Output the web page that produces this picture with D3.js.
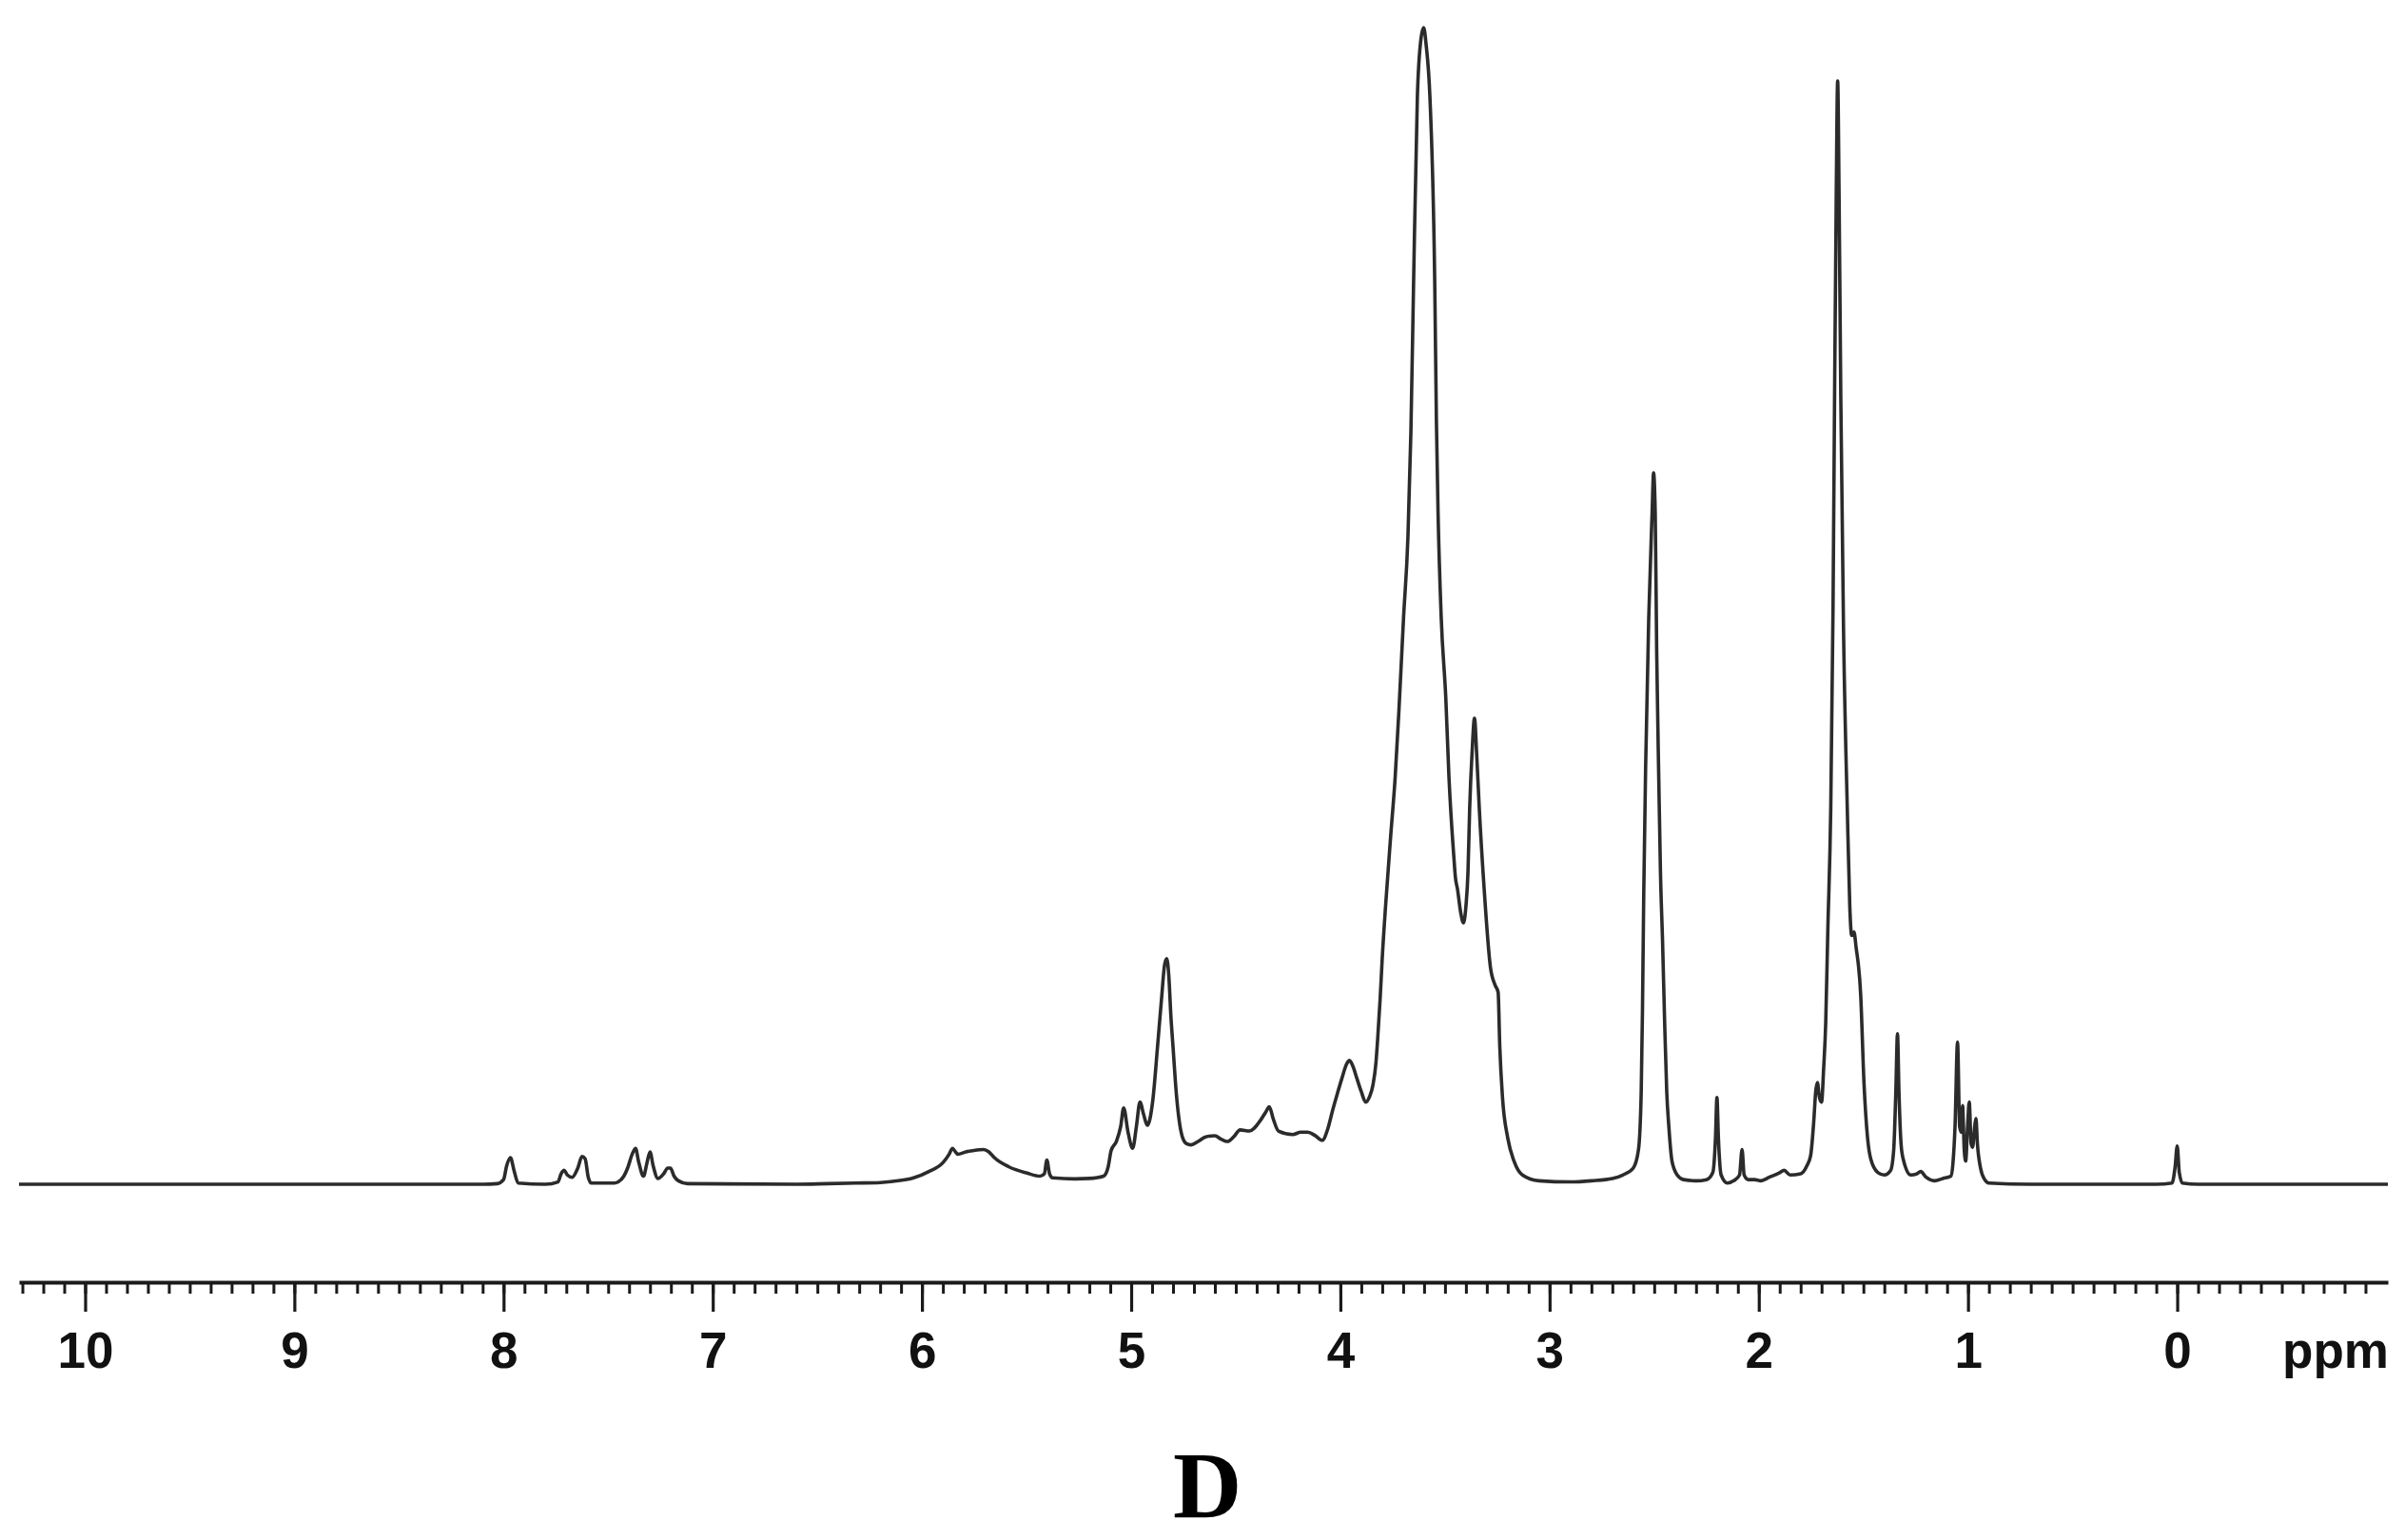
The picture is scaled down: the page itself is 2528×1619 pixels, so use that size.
<!DOCTYPE html>
<html>
<head>
<meta charset="utf-8">
<script src="https://cdn.jsdelivr.net/npm/d3@7"></script>
<style>
  html, body { margin: 0; padding: 0; background: #ffffff; }
  svg { display: block; }
</style>
</head>
<body>
<svg id="chart" width="2528" height="1619"></svg>
<script>
// ---- data (chemical shift in ppm, relative intensity in %) ----
const ppmValues = [
  10.316, 8.1, 8.03, 8.0, 7.985, 7.967, 7.95, 7.93, 7.80, 7.74, 7.725, 7.71, 7.695, 7.672, 7.645, 7.625, 7.61, 7.595, 7.58,
  7.47, 7.452, 7.425, 7.407, 7.385, 7.369, 7.355, 7.331, 7.315, 7.30, 7.285, 7.262, 7.235, 7.215, 7.202, 7.185, 7.164, 7.12,
  6.6, 6.45, 6.315, 6.20, 6.14, 6.04, 5.967, 5.898, 5.87, 5.854, 5.84, 5.829, 5.79, 5.758, 5.706, 5.68, 5.654, 5.584, 5.497,
  5.436, 5.415, 5.403, 5.39, 5.375, 5.27, 5.20, 5.132, 5.11, 5.096, 5.071, 5.05, 5.036, 5.015, 4.993, 4.975, 4.958, 4.94,
  4.923, 4.897, 4.874, 4.855, 4.84, 4.83, 4.82, 4.81, 4.80, 4.784, 4.757, 4.735, 4.714, 4.68, 4.644, 4.60, 4.57, 4.54, 4.51,
  4.479, 4.435, 4.383, 4.355, 4.34, 4.32, 4.296, 4.227, 4.19, 4.157, 4.12, 4.087, 4.06, 4.037, 4.015, 3.992, 3.97, 3.957,
  3.94, 3.922, 3.90, 3.879, 3.86, 3.844, 3.83, 3.822, 3.81, 3.80, 3.783, 3.76, 3.738, 3.72, 3.698, 3.677, 3.663, 3.65, 3.632,
  3.615, 3.602, 3.59, 3.572, 3.549, 3.541, 3.533, 3.518, 3.496, 3.481, 3.458, 3.45, 3.44, 3.425, 3.412, 3.40, 3.39, 3.382,
  3.37, 3.359, 3.348, 3.336, 3.313, 3.283, 3.26, 3.246, 3.238, 3.225, 3.20, 3.17, 3.13, 3.05, 2.90, 2.80, 2.70, 2.65,
  2.60, 2.575, 2.562, 2.556, 2.55, 2.541, 2.526, 2.51, 2.503, 2.495, 2.488, 2.478, 2.47, 2.46, 2.45, 2.44, 2.43, 2.415,
  2.39, 2.36, 2.30, 2.25, 2.22, 2.207, 2.20, 2.193, 2.18, 2.15, 2.12, 2.092, 2.08, 2.07, 2.05, 2.02, 1.99, 1.95, 1.90,
  1.879, 1.85, 1.80, 1.77, 1.752, 1.737, 1.728, 1.72, 1.71, 1.70, 1.69, 1.68, 1.67, 1.656, 1.645, 1.637, 1.63, 1.623,
  1.616, 1.608, 1.595, 1.577, 1.565, 1.556, 1.545, 1.535, 1.513, 1.497, 1.48, 1.465, 1.43, 1.40, 1.37, 1.355, 1.345,
  1.337, 1.33, 1.32, 1.31, 1.273, 1.245, 1.226, 1.20, 1.16, 1.12, 1.082, 1.072, 1.062, 1.05, 1.04, 1.032, 1.026, 1.018,
  1.011, 1.002, 0.994, 0.985, 0.978, 0.968, 0.962, 0.955, 0.94, 0.92, 0.90, 0.70, 0.10, 0.025, 0.01, 0.0, -0.01, -0.025,
  -0.1, -1.007
];
const intensities = [
  0, 0, 0.05, 0.4, 1.6, 2.3, 1.2, 0.1, 0, 0.2, 0.9, 1.2, 0.8, 0.6, 1.4, 2.4, 2.2, 0.6, 0.1,
  0.1, 0.2, 0.7, 1.4, 2.6, 3.1, 2.0, 0.7, 1.8, 2.8, 1.6, 0.5, 0.9, 1.4, 1.4, 0.7, 0.3, 0.05,
  0, 0.05, 0.1, 0.15, 0.25, 0.55, 1.1, 1.9, 2.6, 3.1, 2.8, 2.6, 2.8, 2.9, 3.0, 2.8, 2.3, 1.5, 0.96,
  0.7, 0.9, 2.1, 0.9, 0.55, 0.46, 0.5, 0.7, 1.5, 2.9, 3.7, 5.0, 6.6, 4.5, 3.1, 5.0, 7.1, 6.0,
  5.1, 7.2, 11.9, 16, 19, 19.5, 18, 14.5, 11.9, 7.8, 4.2, 3.5, 3.4, 3.7, 4.1, 4.2, 3.9, 3.7, 4.1,
  4.7, 4.6, 5.5, 6.3, 6.7, 5.6, 4.6, 4.3, 4.5, 4.5, 4.2, 3.8, 4.8, 6.4, 7.8, 9.2, 10.4, 10.7,
  10.2, 9.2, 8.0, 7.1, 7.6, 8.6, 10.5, 12.5, 16, 19.5, 24.3, 30, 35.2, 41, 49, 56, 65, 78, 94,
  99, 100, 98.5, 94, 78, 66, 58, 49, 42, 35.2, 28.4, 26.5, 25.5, 23.5, 22.6, 24, 27, 32.5,
  37.5, 40.3, 37, 32.5, 25.6, 18.8, 17.2, 16.6, 11.9, 7.5, 4, 2, 0.8, 0.3, 0.2, 0.3, 0.5, 0.8,
  1.4, 3, 8, 15, 25, 36, 49, 58, 61.5, 58, 46, 35, 27, 21, 14, 8, 5, 2,
  0.8, 0.4, 0.3, 0.4, 1, 4, 7.5, 4, 0.8, 0.1, 0.3, 0.8, 3.0, 0.8, 0.4, 0.4, 0.3, 0.6, 1.0,
  1.2, 0.8, 0.9, 1.6, 2.5, 5.5, 8, 8.8, 7.5, 7.1, 10, 14, 22, 32.5, 50, 70, 85, 95.4,
  85, 68, 48, 32.5, 24, 21.5, 21.8, 20.5, 16.4, 8.7, 4, 2.2, 1.0, 0.8, 1.2, 3, 8,
  13, 8, 3.5, 2.2, 0.8, 0.9, 1.1, 0.6, 0.3, 0.5, 0.7, 1.8, 5, 12.3, 5, 4.5, 6.8, 3,
  2.0, 5, 7.1, 3.5, 3.2, 5, 5.7, 3.5, 1.4, 0.4, 0.1, 0, 0, 0.1, 1.5, 3.3, 1.0, 0.1,
  0, 0
];
const majorTicks = [10, 9, 8, 7, 6, 5, 4, 3, 2, 1, 0];
const tickLabels = ["10", "9", "8", "7", "6", "5", "4", "3", "2", "1", "0"];
const unitLabel = "ppm";
const panelLabel = "D";

// ---- drawing ----
const svg = d3.select("#chart");
const x = d3.scaleLinear().domain([10.316, -1.007]).range([20, 2510]);
const y = d3.scaleLinear().domain([0, 100]).range([1245, 29]);

const points = ppmValues.map((p, i) => [p, intensities[i]]);
const line = d3.line()
  .x(d => x(d[0]))
  .y(d => y(d[1]))
  .curve(d3.curveMonotoneX);

svg.append("path")
  .datum(points)
  .attr("d", line)
  .attr("fill", "none")
  .attr("stroke", "#2b2b2b")
  .attr("stroke-width", 3.6)
  .attr("stroke-linejoin", "round");

const axisY = 1348;
const minorTicks = d3.range(-9, 104).map(i => i / 10);

const minorAxis = d3.axisBottom(x).tickValues(minorTicks).tickSize(12).tickSizeOuter(0).tickFormat("");
const gMinor = svg.append("g").attr("transform", `translate(0,${axisY})`).call(minorAxis);
gMinor.selectAll(".tick line").attr("stroke", "#1a1a1a").attr("stroke-width", 3);
gMinor.select(".domain").attr("stroke", "#1a1a1a").attr("stroke-width", 4);

const majorAxis = d3.axisBottom(x).tickValues(majorTicks).tickSize(31).tickSizeOuter(0)
  .tickFormat((d, i) => tickLabels[i]);
const gMajor = svg.append("g").attr("transform", `translate(0,${axisY})`).call(majorAxis);
gMajor.select(".domain").remove();
gMajor.selectAll(".tick line").attr("stroke", "#1a1a1a").attr("stroke-width", 3.2);
gMajor.selectAll(".tick text")
  .attr("y", 90)
  .attr("dy", 0)
  .attr("fill", "#111")
  .style("font-family", "'Liberation Sans', Arial, Helvetica, sans-serif")
  .style("font-weight", "bold")
  .style("font-size", "53px");

svg.append("text")
  .attr("x", 2455)
  .attr("y", axisY + 90)
  .attr("text-anchor", "middle")
  .attr("fill", "#111")
  .style("font-family", "'Liberation Sans', Arial, Helvetica, sans-serif")
  .style("font-weight", "bold")
  .style("font-size", "53px")
  .text(unitLabel);

svg.append("text")
  .attr("x", 1269)
  .attr("y", 1595)
  .attr("text-anchor", "middle")
  .attr("fill", "#000")
  .style("font-family", "'Liberation Serif', 'Times New Roman', serif")
  .style("font-weight", "bold")
  .style("font-size", "100px")
  .text(panelLabel);
</script>
</body>
</html>
